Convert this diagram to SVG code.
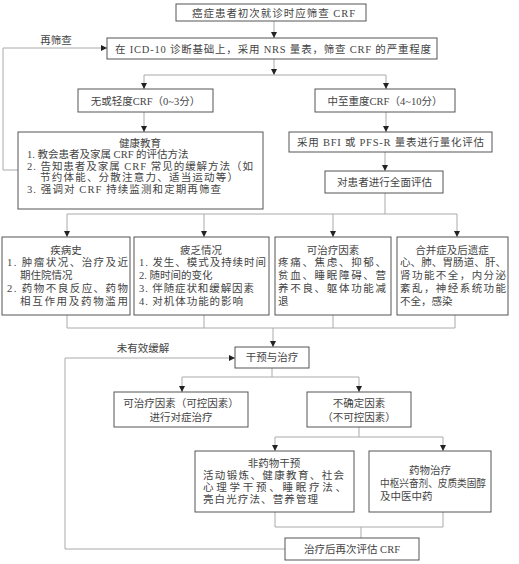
<svg xmlns="http://www.w3.org/2000/svg" width="519" height="564" viewBox="0 0 519 564">
<style>
.b{fill:#fff;stroke:#555;stroke-width:1}
.c{fill:none;stroke:#aaa;stroke-width:1}
.a{marker-end:url(#ar)}
text{font-family:"Liberation Serif","Noto Sans CJK SC",serif;font-size:10.5px;fill:#444}
.m{text-anchor:middle}
</style>
<defs>
<marker id="ar" markerUnits="userSpaceOnUse" markerWidth="7" markerHeight="7" refX="6" refY="3" orient="auto">
<path d="M0,0 L6,3 L0,6 z" fill="#222"/>
</marker>
</defs>
<rect width="519" height="564" fill="#fff"/>
<g id="connectors">
<path class="c a" d="M274,21 V38"/>
<path class="c a" d="M274,59 V75"/>
<path class="c" d="M144,75 H386"/>
<path class="c a" d="M144,75 V89"/>
<path class="c a" d="M386,75 V89"/>
<path class="c a" d="M144,112 V132"/>
<path class="c a" d="M386,112 V132"/>
<path class="c a" d="M18,170 H3 V48 H107"/>
<path class="c a" d="M385,152 V171"/>
<path class="c" d="M385,193 V214 M67,214 H457"/>
<path class="c a" d="M67,214 V237"/>
<path class="c a" d="M204,214 V237"/>
<path class="c a" d="M333,214 V237"/>
<path class="c a" d="M457,214 V237"/>
<path class="c" d="M67,315 V328 M204,315 V328 M333,315 V328 M455,315 V328 M67,328 H455"/>
<path class="c a" d="M273,328 V347"/>
<path class="c a" d="M285,549 H65 V358 H235"/>
<path class="c" d="M272,368 V377 M182,377 H359"/>
<path class="c a" d="M182,377 V392"/>
<path class="c a" d="M359,377 V392"/>
<path class="c" d="M359,427 V437 M275,437 H443"/>
<path class="c a" d="M275,437 V451"/>
<path class="c a" d="M443,437 V451"/>
<path class="c" d="M275,512 V527 M443,512 V527 M275,527 H443 M361,527 V538"/>
<text class="m" x="56" y="44">再筛查</text>
<text class="m" x="143" y="352">未有效缓解</text>
</g>
<g id="n1"><rect class="b" x="176" y="4" width="190" height="17"/><text x="192" y="17" textLength="163">癌症患者初次就诊时应筛查 CRF</text></g>
<g id="n2"><rect class="b" x="107" y="38" width="330" height="21"/><text x="115" y="53" textLength="316">在 ICD-10 诊断基础上，采用 NRS 量表，筛查 CRF 的严重程度</text></g>
<g id="n3"><rect class="b" x="78" y="89" width="135" height="23"/><text class="m" x="145.5" y="105">无或轻度CRF（0~3分）</text></g>
<g id="n4"><rect class="b" x="315" y="89" width="140" height="23"/><text class="m" x="385" y="105">中至重度CRF（4~10分）</text></g>
<g id="n5"><rect class="b" x="18" y="132" width="245" height="77"/>
<text class="m" x="140" y="147">健康教育</text>
<text x="27" y="158">1. 教会患者及家属 CRF 的评估方法</text>
<text x="27" y="170" textLength="226">2. 告知患者及家属 CRF 常见的缓解方法（如</text>
<text x="40" y="181" textLength="198">节约体能、分散注意力、适当运动等）</text>
<text x="27" y="193" textLength="194">3. 强调对 CRF 持续监测和定期再筛查</text></g>
<g id="n6"><rect class="b" x="289" y="132" width="203" height="20"/><text x="297" y="146" textLength="187">采用 BFI 或 PFS-R 量表进行量化评估</text></g>
<g id="n7"><rect class="b" x="325" y="171" width="118" height="22"/><text x="337" y="186" textLength="95">对患者进行全面评估</text></g>
<g id="n8"><rect class="b" x="2" y="237" width="128" height="78"/>
<text class="m" x="66" y="254">疾病史</text>
<text x="7" y="266" textLength="121">1. 肿瘤状况、治疗及近</text>
<text x="20" y="279">期住院情况</text>
<text x="7" y="292" textLength="121">2. 药物不良反应、药物</text>
<text x="20" y="305" textLength="108">相互作用及药物滥用</text></g>
<g id="n9"><rect class="b" x="134" y="237" width="135" height="78"/>
<text class="m" x="201" y="254">疲乏情况</text>
<text x="139" y="266" textLength="127">1. 发生、模式及持续时间</text>
<text x="139" y="279">2. 随时间的变化</text>
<text x="139" y="292" textLength="115">3. 伴随症状和缓解因素</text>
<text x="139" y="305" textLength="104">4. 对机体功能的影响</text></g>
<g id="n10"><rect class="b" x="275" y="237" width="116" height="78"/>
<text class="m" x="333" y="254">可治疗因素</text>
<text x="278" y="266" textLength="108">疼痛、焦虑、抑郁、</text>
<text x="278" y="279" textLength="108">贫血、睡眠障碍、营</text>
<text x="278" y="292" textLength="108">养不良、躯体功能减</text>
<text x="278" y="305">退</text></g>
<g id="n11"><rect class="b" x="397" y="237" width="111" height="78"/>
<text class="m" x="452" y="254">合并症及后遗症</text>
<text x="400" y="266" textLength="106">心、肺、胃肠道、肝、</text>
<text x="400" y="279" textLength="106">肾功能不全，内分泌</text>
<text x="400" y="292" textLength="106">紊乱，神经系统功能</text>
<text x="400" y="305">不全，感染</text></g>
<g id="n12"><rect class="b" x="235" y="347" width="74" height="21"/><text class="m" x="272" y="361">干预与治疗</text></g>
<g id="n13"><rect class="b" x="114" y="392" width="134" height="35"/>
<text class="m" x="181" y="407">可治疗因素（可控因素）</text>
<text class="m" x="181" y="421">进行对症治疗</text></g>
<g id="n14"><rect class="b" x="307" y="392" width="104" height="35"/>
<text class="m" x="359" y="407">不确定因素</text>
<text class="m" x="359" y="421">（不可控因素）</text></g>
<g id="n15"><rect class="b" x="195" y="451" width="159" height="61"/>
<text class="m" x="274" y="467">非药物干预</text>
<text x="203" y="479" textLength="141">活动锻炼、健康教育、社会</text>
<text x="203" y="491" textLength="143">心理学干预、睡眠疗法、</text>
<text x="203" y="503" textLength="115">亮白光疗法、营养管理</text></g>
<g id="n16"><rect class="b" x="369" y="451" width="122" height="61"/>
<text class="m" x="430" y="474">药物治疗</text>
<text x="380" y="487" textLength="106" lengthAdjust="spacingAndGlyphs">中枢兴奋剂、皮质类固醇</text>
<text x="380" y="500">及中医中药</text></g>
<g id="n17"><rect class="b" x="285" y="538" width="134" height="22"/><text class="m" x="352" y="553">治疗后再次评估 CRF</text></g>
</svg>
